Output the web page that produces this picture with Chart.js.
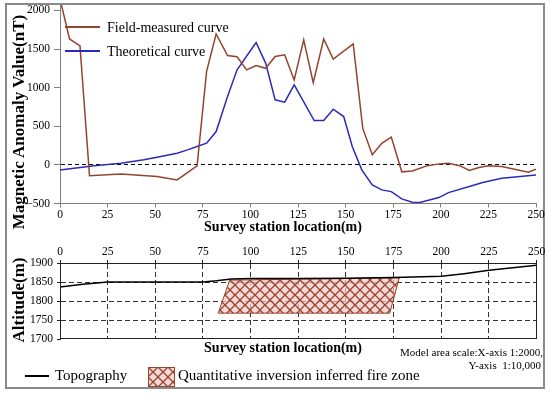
<!DOCTYPE html>
<html><head><meta charset="utf-8">
<script src="https://cdn.jsdelivr.net/npm/chart.js@4.4.1/dist/chart.umd.min.js"></script>
<style>
html,body{margin:0;padding:0;background:#fff;}
#wrap{position:relative;width:550px;height:396px;overflow:hidden;font-family:"Liberation Serif","Times New Roman",serif;color:#000;}
canvas.full{position:absolute;left:0;top:0;}
.t{position:absolute;white-space:pre;line-height:1;}
.c{transform:translate(-50%,-50%);}
.v{transform:translate(-50%,-50%) rotate(-90deg);}
.b{font-weight:bold;}
#frame{position:absolute;left:5px;top:3px;width:540px;height:386px;box-sizing:border-box;border:2px solid #8a8a8a;}
</style></head><body>
<div id="wrap">
 <div id="frame"></div>
 <canvas id="c1" class="full" width="550" height="396"></canvas>
 <canvas id="c2" class="full" width="550" height="396"></canvas>
 <div class="t v b" style="left:18px;top:121.5px;font-size:17px;">Magnetic Anomaly Value(nT)</div>
 <div class="t v b" style="left:18px;top:299.5px;font-size:17px;">Altitude(m)</div>
 <div class="t c b" style="left:283px;top:227px;font-size:14px;">Survey station location(m)</div>
 <div class="t c b" style="left:283px;top:348px;font-size:14px;">Survey station location(m)</div>
 <div style="position:absolute;left:65px;top:26px;width:35px;height:1.5px;background:#93442f;"></div>
 <div class="t" style="left:107px;top:20.5px;font-size:14px;">Field-measured curve</div>
 <div style="position:absolute;left:65px;top:50.3px;width:35px;height:1.5px;background:#2b2bb8;"></div>
 <div class="t" style="left:107px;top:45px;font-size:14px;">Theoretical curve</div>
 <div style="position:absolute;left:25px;top:375px;width:24px;height:1.5px;background:#000;"></div>
 <div class="t" style="left:55px;top:368px;font-size:15px;">Topography</div>
 <canvas id="lg" width="27" height="20" style="position:absolute;left:148px;top:367px;"></canvas>
 <div class="t" style="left:178px;top:368px;font-size:15px;">Quantitative inversion inferred fire zone</div>
 <div class="t" style="right:7px;top:346.5px;font-size:11px;">Model area scale:X-axis 1:2000,</div>
 <div class="t" style="right:9px;top:360px;font-size:11px;">Y-axis  1:10,000</div>
</div>
<script>
// ---- data ----
const stationTicks = [0,25,50,75,100,125,150,175,200,225,250];
const magTicks = [-500,0,500,1000,1500,2000];
const altTicks = [1700,1750,1800,1850,1900];

const fieldX = [0,5,10.5,15.5,32,51,61.5,72,77,82,88,93,98,103,108,113,118,123,128,133,138.5,143.5,154,159,164,169,174,179.5,185,193,199,204,210,215,220,225,232,246,250];
const fieldY = [2150,1630,1540,-140,-117,-150,-195,-13,1210,1695,1415,1400,1230,1285,1250,1403,1425,1100,1620,1065,1630,1370,1565,475,130,280,360,-90,-78,-10,13,22,-10,-73,-35,-10,-22,-95,-56];

const theoX = [0,18,32,44,53,61.5,67,72,77,82,88,93,103,108,113,118,123,133.5,138.5,143.5,149,153.5,158.5,164,169,174,179.5,185,189,199,204,215,222,232,250];
const theoY = [-65,-10,22,65,108,151,194,237,281,432,885,1231,1585,1318,842,812,1036,574,574,721,626,237,-65,-259,-324,-346,-440,-483,-488,-423,-359,-281,-229,-173,-130];

const topoX = [0,12,25,50,75,82,90,100,125,150,175,200,212,225,250];
const topoY = [1837,1844,1850,1850,1850,1853,1858,1859,1859,1860,1862,1865,1872,1881,1894];

const zoneX = [83,89,178,173,83];
const zoneY = [1768,1855,1861,1768,1768];

// ---- helpers ----
const pts = (xs, ys) => xs.map((x, i) => ({x, y: ys[i]}));
const brown = '#93442f', blue = '#2b2bb8', gray = '#808080', dark = '#222';
const hatchCol = '#97452f';
const tickFont = {family: 'Liberation Serif', size: 11.5};
const plain = v => (v < 0 ? '\u2212' + Math.abs(v) : String(v));

function hatchCanvas() {
  const p = document.createElement('canvas'); p.width = 10; p.height = 10;
  const g = p.getContext('2d');
  g.fillStyle = 'rgba(246,200,200,0.7)'; g.fillRect(0, 0, 10, 10);
  g.strokeStyle = hatchCol; g.lineWidth = 1.3;
  g.beginPath(); g.moveTo(0, 0); g.lineTo(10, 10); g.moveTo(10, 0); g.lineTo(0, 10); g.stroke();
  return p;
}
const hc = hatchCanvas();
const lg = document.getElementById('lg').getContext('2d');
lg.fillStyle = lg.createPattern(hc, 'repeat'); lg.fillRect(0, 0, 27, 20);
lg.strokeStyle = hatchCol; lg.lineWidth = 1; lg.strokeRect(0.5, 0.5, 26, 19);

const fixTicks = arr => s => { s.ticks = arr.map(v => ({value: v})); };

// ---- top chart ----
new Chart(document.getElementById('c1'), {
  type: 'line',
  data: {datasets: [
    {label: 'Field-measured curve', data: pts(fieldX, fieldY), borderColor: brown, borderWidth: 1.5, pointRadius: 0, tension: 0, fill: false},
    {label: 'Theoretical curve', data: pts(theoX, theoY), borderColor: blue, borderWidth: 1.5, pointRadius: 0, tension: 0, fill: false}
  ]},
  options: {
    responsive: false, animation: false, devicePixelRatio: 1,
    layout: {autoPadding: false, padding: {left: 0, top: 5, right: 14, bottom: 396 - 203.5 - 20}},
    plugins: {legend: {display: false}, tooltip: {enabled: false}},
    scales: {
      x: {type: 'linear', min: 0, max: 250, position: 'bottom',
        afterBuildTicks: fixTicks(stationTicks),
        afterFit: s => { s.height = 20; s.paddingLeft = 0; s.paddingRight = 0; },
        grid: {display: true, drawOnChartArea: false, drawTicks: true, tickLength: 4, tickColor: gray, tickWidth: 1},
        border: {display: true, color: gray, width: 1},
        ticks: {color: '#000', font: tickFont, padding: 1, maxRotation: 0, autoSkip: false, callback: plain}
      },
      y: {type: 'linear', min: -500, max: 2070,
        afterBuildTicks: fixTicks(magTicks),
        afterFit: s => { s.width = 60; s.paddingTop = 0; s.paddingBottom = 0; },
        grid: {display: true, drawTicks: true, tickLength: 6, tickColor: gray, tickWidth: 1,
          color: c => (c.tick && c.tick.value === 0) ? '#000' : 'rgba(0,0,0,0)'},
        border: {display: true, color: gray, width: 1, dash: [4, 3]},
        ticks: {color: '#000', font: tickFont, padding: 4, autoSkip: false, callback: plain}
      }
    }
  }
});

// ---- bottom chart ----
const framePlugin = {
  id: 'frame',
  afterDatasetsDraw(chart) {
    const {ctx, chartArea: a} = chart;
    ctx.save(); ctx.strokeStyle = dark; ctx.lineWidth = 1;
    const l = Math.round(a.left) + 0.5, t = Math.round(a.top) + 0.5, r = Math.round(a.right) - 0.5, b = Math.round(a.bottom) - 0.5;
    ctx.strokeRect(l, t, r - l, b - t);
    ctx.restore();
  }
};
const c2 = document.getElementById('c2');
new Chart(c2, {
  type: 'line',
  data: {datasets: [
    {label: 'Topography', data: pts(topoX, topoY), borderColor: '#000', borderWidth: 1.5, pointRadius: 0, tension: 0, fill: false},
    {label: 'Quantitative inversion inferred fire zone', data: pts(zoneX, zoneY), borderColor: hatchCol, borderWidth: 1,
      pointRadius: 0, tension: 0, fill: 'shape', backgroundColor: c2.getContext('2d').createPattern(hc, 'repeat')}
  ]},
  plugins: [framePlugin],
  options: {
    responsive: false, animation: false, devicePixelRatio: 1,
    layout: {autoPadding: false, padding: {left: 0, top: 263 - 20, right: 13.5, bottom: 396 - 339}},
    plugins: {legend: {display: false}, tooltip: {enabled: false}},
    scales: {
      x: {type: 'linear', min: 0, max: 250, position: 'top',
        afterBuildTicks: fixTicks(stationTicks),
        afterFit: s => { s.height = 20; s.paddingLeft = 0; s.paddingRight = 0; },
        grid: {display: true, drawTicks: true, tickLength: 3, tickColor: dark, tickWidth: 1,
          color: c => (c.tick && (c.tick.value === 0 || c.tick.value === 250)) ? 'rgba(0,0,0,0)' : '#333'},
        border: {display: true, color: dark, width: 1, dash: [5, 3]},
        ticks: {color: '#000', font: tickFont, padding: 1, maxRotation: 0, autoSkip: false, callback: plain}
      },
      y: {type: 'linear', min: 1700, max: 1900,
        afterBuildTicks: fixTicks(altTicks),
        afterFit: s => { s.width = 60; s.paddingTop = 0; s.paddingBottom = 0; },
        grid: {display: true, drawTicks: true, tickLength: 3, tickColor: dark, tickWidth: 1,
          color: c => (c.tick && (c.tick.value === 1700 || c.tick.value === 1900)) ? 'rgba(0,0,0,0)' : '#333'},
        border: {display: true, color: dark, width: 1, dash: [5, 3]},
        ticks: {color: '#000', font: tickFont, padding: 4, autoSkip: false, callback: plain}
      }
    }
  }
});
</script>
</body></html>
